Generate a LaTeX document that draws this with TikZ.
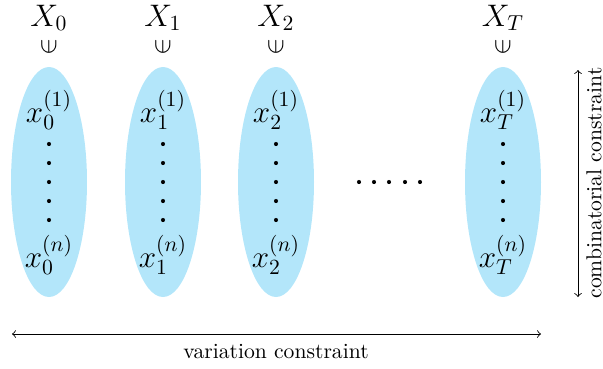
\documentclass[tikz,border=0pt]{standalone}
\usepackage{graphicx}
\begin{document}
\begin{tikzpicture}[x=0.01625cm,y=-0.01625cm,
  bigx/.style={font=\Large, inner sep=0pt},
  elemlbl/.style={font=\Large, inner sep=0pt},
  memb/.style={inner sep=0pt, font=\large},
  dotmark/.style={circle, fill=black, inner sep=0pt, minimum size=1.9pt},
  dimarrow/.style={draw, <->},
  lbl/.style={inner sep=0pt}]
\useasboundingbox (0,0) rectangle (603,368);
\foreach \cx/\s [count=\i] in {49/0,163/1,276/2,503/T}{
  \fill[cyan!30] (\cx,182) ellipse [x radius=38, y radius=115];
  \node[bigx] (X\i) at (\cx,18) {$X_{\s}$};
  \node[memb] (in\i) at (\cx,47) {\rotatebox[origin=c]{90}{$\in$}};
  \node[elemlbl] (a\i) at (\cx,110) {$x_{\s}^{(1)}$};
  \node[elemlbl] (b\i) at (\cx,255) {$x_{\s}^{(n)}$};
  \foreach \yy [count=\j] in {144,163,182,201,220}{
    \node[dotmark] (d\i\j) at (\cx,\yy) {};
  }
}
\foreach \xx [count=\j] in {359,374,389,405,420}{
  \node[dotmark] (m\j) at (\xx,182) {};
}
\coordinate (hl) at (12,334);
\coordinate (hr) at (541,334);
\draw[dimarrow] (hl) -- (hr);
\node[lbl] (vlab) at (276,352) {variation constraint};
\coordinate (vt) at (578,70);
\coordinate (vb) at (578,297);
\draw[dimarrow] (vt) -- (vb);
\node[lbl, rotate=90] (clab) at (594,183) {combinatorial constraint};
\end{tikzpicture}
\end{document}
